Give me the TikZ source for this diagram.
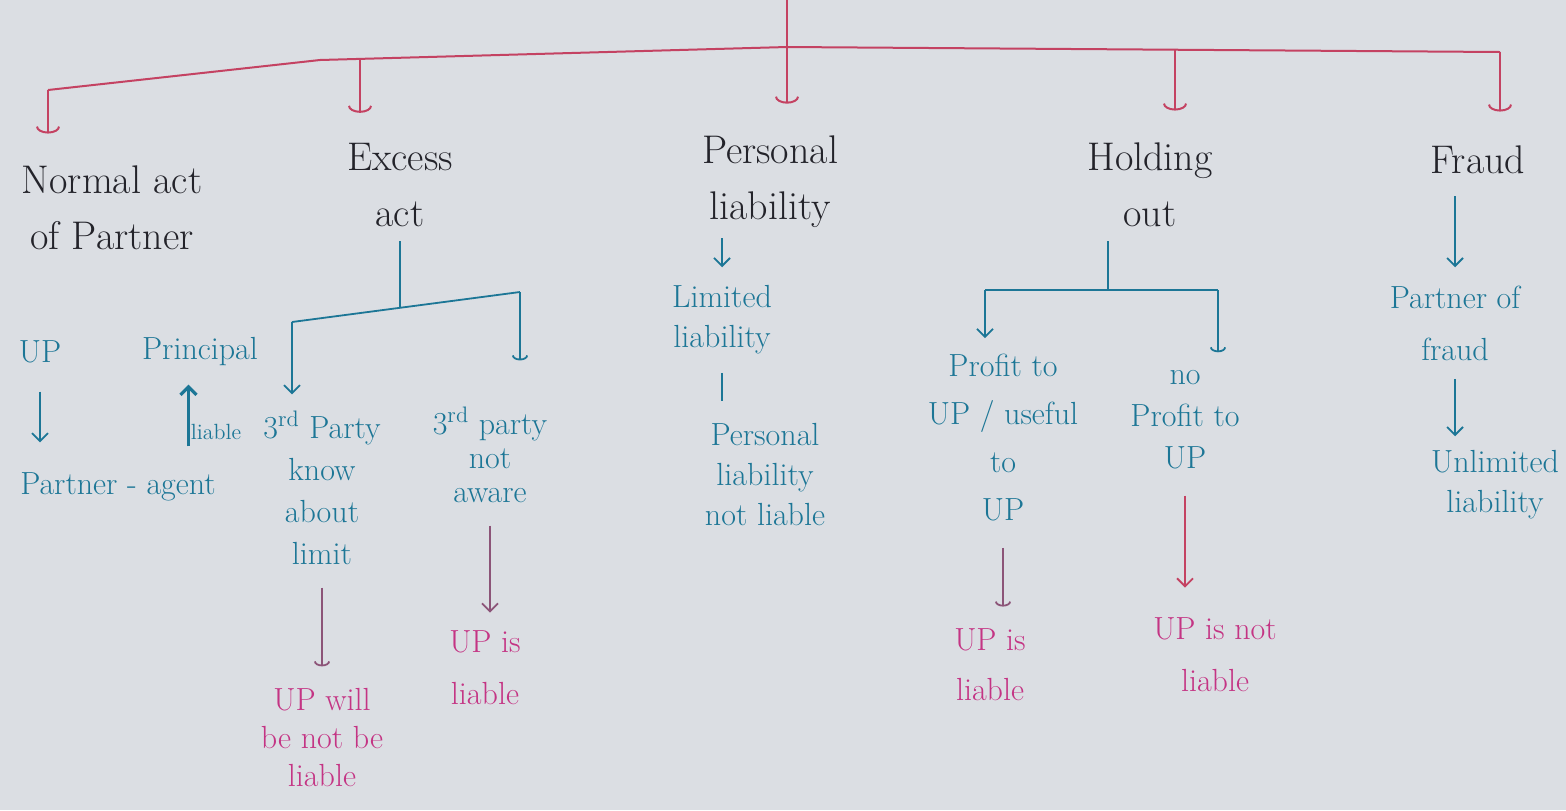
\documentclass[tikz,border=0pt]{standalone}
\usepackage{amsmath}
\usepackage{tikz}
\usetikzlibrary{arrows.meta}

\definecolor{paper}{RGB}{219,222,227}
\definecolor{inkblack}{RGB}{35,35,42}
\definecolor{inkred}{RGB}{196,66,98}
\definecolor{inkblue}{RGB}{28,118,150}
\definecolor{inkpink}{RGB}{196,52,132}
\definecolor{inkplum}{RGB}{140,84,120}

\tikzset{
  head/.style={text=inkblack, font=\fontsize{20}{28}\selectfont, align=center, inner sep=1pt},
  sub/.style={text=inkblue, font=\fontsize{16}{19}\selectfont, align=center, inner sep=1pt},
  res/.style={text=inkpink, font=\fontsize{16}{26}\selectfont, align=center, inner sep=1pt},
  redline/.style={draw=inkred, line width=1pt},
  redhook/.style={redline, -{Arc Barb[length=3.5pt,width=12pt]}},
  blueline/.style={draw=inkblue, line width=0.9pt},
  bluearrow/.style={blueline, -{Straight Barb[length=4pt,width=8pt]}},
  bluehook/.style={blueline, -{Arc Barb[length=2.5pt,width=8pt]}},
}

\begin{document}
\begin{tikzpicture}[x=0.5pt,y=-0.5pt]
\useasboundingbox (0,0) rectangle (1566,810);
\fill[paper] (0,0) rectangle (1566,810);

% headings
\node[head] (normal) at (112,208) {Normal act\\of Partner};
\node[head] (excess) at (400,185) {Excess\\act};
\node[head] (personal) at (770,182) {Personal\\liability};
\node[head] (holding) at (1150,185) {Holding\\out};
\node[head] (fraud) at (1478,160) {Fraud};

% red bus
\coordinate (root) at (787,0);
\coordinate (hub) at (787,47);
\coordinate (bend) at (320,60);
\coordinate (busL) at (48,90);
\coordinate (busR) at (1500,52);
\coordinate (busE) at (360,59);
\coordinate (busH) at (1175,50);
\draw[redline] (root) -- (hub);
\draw[redline] (busL) -- (bend) -- (hub) -- (busR);
\draw[redhook, shorten >=15pt] (busL) -- (busL |- normal.north);
\draw[redhook, shorten >=14pt] (busE) -- (busE |- excess.north);
\draw[redhook, shorten >=15pt] (hub) -- (hub |- personal.north);
\draw[redhook, shorten >=15pt] (busH) -- (busH |- holding.north);
\draw[redhook, shorten >=16pt] (busR) -- (busR |- fraud.north);

% normal act
\node[sub] (up) at (40,352) {UP};
\node[sub] (principal) at (200,352) {Principal};
\node[sub] (partneragent) at (118,487) {Partner - agent};
\node[sub, font=\fontsize{11}{13}\selectfont] (lia) at (216,432) {liable};
\draw[bluearrow, shorten <=13pt, shorten >=14pt] (up.south) -- (up.south |- partneragent.north);
\draw[bluearrow, line width=1.6pt, shorten <=12pt, shorten >=8pt] (lia.west |- partneragent.north) -- (lia.west |- principal.south);

% excess act
\coordinate (exJ) at (400,308);
\coordinate (exL) at (292,322);
\coordinate (exR) at (520,292);
\node[sub, font=\fontsize{16}{21}\selectfont] (know) at (322,488) {3\textsuperscript{rd} Party\\know\\about\\limit};
\node[sub, font=\fontsize{16}{17}\selectfont] (aware) at (490,455) {3\textsuperscript{rd} party\\not\\aware};
\node[res, font=\fontsize{16}{19}\selectfont] (willnot) at (322,738) {UP will\\be not be\\liable};
\node[res] (upis1) at (485,668) {UP is\\liable};
\draw[blueline, shorten <=6pt] (excess.south) -- (exJ);
\draw[blueline] (exL) -- (exR);
\draw[bluearrow, shorten >=7pt] (exL) -- (exL |- know.north);
\draw[bluehook, shorten >=22pt] (exR) -- (exR |- aware.north);
\draw[bluehook, draw=inkplum, shorten <=10pt, shorten >=10pt] (know.south) -- (willnot.north);
\draw[bluearrow, draw=inkplum, shorten <=10pt, shorten >=8pt] (aware.south) -- (aware.south |- upis1.north);

% personal liability
\node[sub, font=\fontsize{16}{20}\selectfont] (limited) at (722,320) {Limited\\liability};
\node[sub, font=\fontsize{16}{20}\selectfont] (perslia) at (765,475) {Personal\\liability\\not liable};
\draw[bluearrow, shorten <=4pt, shorten >=8pt] (limited.north |- personal.south) -- (limited.north);
\draw[blueline, shorten <=8pt, shorten >=10pt] (limited.south) -- (limited.south |- perslia.north);

% holding out
\coordinate (hoJ) at (1108,290);
\coordinate (hoL) at (985,290);
\coordinate (hoR) at (1218,290);
\node[sub, font=\fontsize{16}{24}\selectfont] (profit) at (1003,438) {Profit to\\UP / useful\\to\\UP};
\node[sub, font=\fontsize{16}{21}\selectfont] (noprofit) at (1185,420) {no\\Profit to\\UP};
\node[res, font=\fontsize{16}{25}\selectfont] (upis2) at (990,665) {UP is\\liable};
\node[res] (upisnot) at (1215,655) {UP is not\\liable};
\draw[blueline, shorten <=6pt] (hoJ |- holding.south) -- (hoJ);
\draw[blueline] (hoL) -- (hoR);
\draw[bluearrow, shorten >=7pt] (hoL) -- (hoL |- profit.north);
\draw[bluehook, shorten >=8pt] (hoR) -- (hoR |- noprofit.north);
\draw[bluehook, draw=inkplum, shorten <=12pt, shorten >=10pt] (profit.south) -- (profit.south |- upis2.north);
\draw[bluearrow, draw=inkred, shorten <=12pt, shorten >=14pt] (noprofit.south) -- (noprofit.south |- upisnot.north);

% fraud
\node[sub, font=\fontsize{16}{26}\selectfont] (partnerfraud) at (1455,323) {Partner of\\fraud};
\node[sub, font=\fontsize{16}{20}\selectfont] (unlimited) at (1495,485) {Unlimited\\liability};
\draw[bluearrow, shorten <=10pt, shorten >=8pt] (partnerfraud.north |- fraud.south) -- (partnerfraud.north);
\draw[bluearrow, shorten <=8pt, shorten >=6pt] (partnerfraud.south) -- (partnerfraud.south |- unlimited.north);
\end{tikzpicture}
\end{document}
